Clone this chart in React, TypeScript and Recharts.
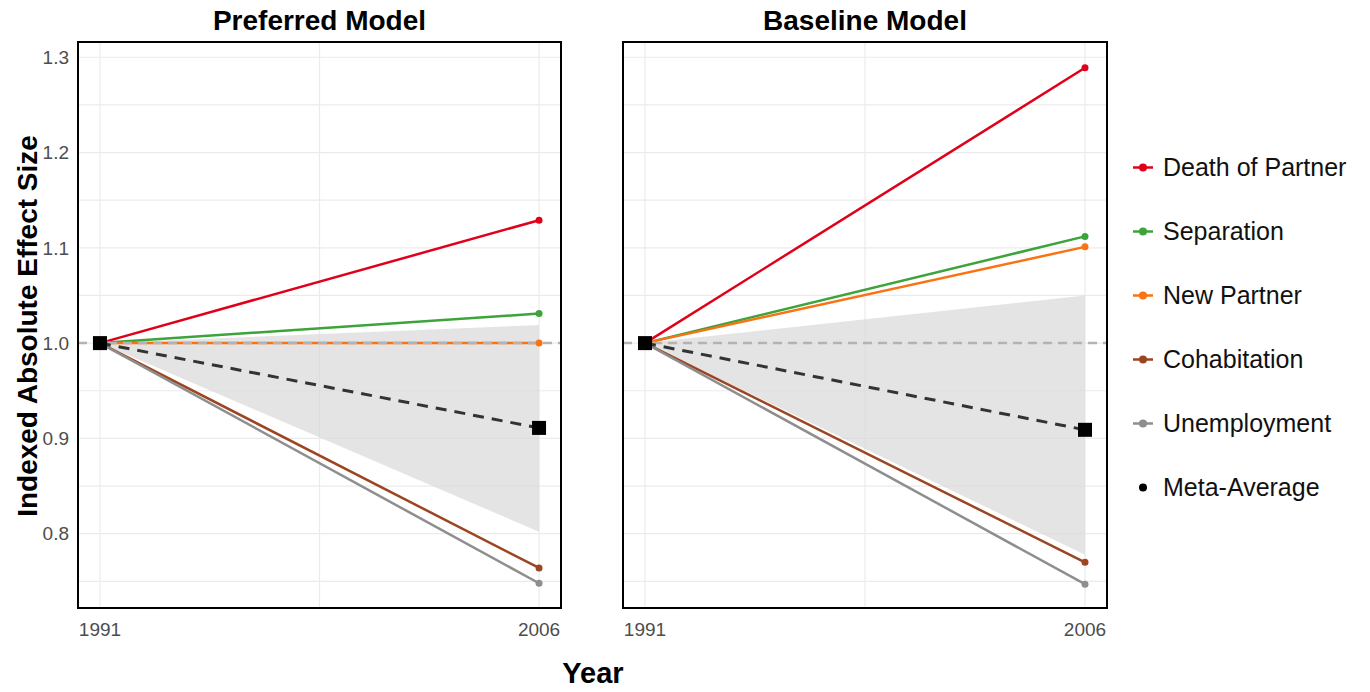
import React from 'react';
import { ComposedChart, Line, Area, XAxis, YAxis, CartesianGrid, ReferenceLine } from 'recharts';

// years on the x axis
const YEARS = [1991, 2006];

// legend order + colours
const SERIES_KEYS = ['death', 'separation', 'newPartner', 'cohabitation', 'unemployment', 'meta'];
const SERIES_NAMES = ['Death of Partner', 'Separation', 'New Partner', 'Cohabitation', 'Unemployment', 'Meta-Average'];
const SERIES_COLORS = ['#e1001a', '#3ca43a', '#fb7212', '#9b4522', '#8e8e8e', '#000000'];

// Preferred Model
const PREF_DEATH = [1, 1.129];
const PREF_SEPARATION = [1, 1.031];
const PREF_NEW_PARTNER = [1, 1.0];
const PREF_COHABITATION = [1, 0.764];
const PREF_UNEMPLOYMENT = [1, 0.748];
const PREF_META = [1, 0.911];
const PREF_LOWER = [1, 0.802];
const PREF_UPPER = [1, 1.019];

// Baseline Model
const BASE_DEATH = [1, 1.289];
const BASE_SEPARATION = [1, 1.112];
const BASE_NEW_PARTNER = [1, 1.101];
const BASE_COHABITATION = [1, 0.770];
const BASE_UNEMPLOYMENT = [1, 0.747];
const BASE_META = [1, 0.909];
const BASE_LOWER = [1, 0.778];
const BASE_UPPER = [1, 1.050];

const Y_TICKS = [0.8, 0.9, 1.0, 1.1, 1.2, 1.3];
const Y_GRID = [0.75, 0.8, 0.85, 0.9, 0.95, 1.0, 1.05, 1.1, 1.15, 1.2, 1.25, 1.3];
const X_GRID = [1991, 1998.5, 2006];

const FONT = '"Liberation Sans", Arial, Helvetica, sans-serif';

function buildRows(d: number[], s: number[], n: number[], c: number[], u: number[], m: number[], lo: number[], hi: number[]) {
    return YEARS.map((year, i) => ({
        year,
        death: d[i],
        separation: s[i],
        newPartner: n[i],
        cohabitation: c[i],
        unemployment: u[i],
        meta: m[i],
        band: [lo[i], hi[i]],
    }));
}

const preferredData = buildRows(PREF_DEATH, PREF_SEPARATION, PREF_NEW_PARTNER, PREF_COHABITATION, PREF_UNEMPLOYMENT, PREF_META, PREF_LOWER, PREF_UPPER);
const baselineData = buildRows(BASE_DEATH, BASE_SEPARATION, BASE_NEW_PARTNER, BASE_COHABITATION, BASE_UNEMPLOYMENT, BASE_META, BASE_LOWER, BASE_UPPER);

const SquareDot = (props: any) => {
    const { cx, cy } = props;
    if (cx == null || cy == null) return null;
    return <rect x={cx - 7} y={cy - 7} width={14} height={14} fill="#000" />;
};

function Panel({ data, showY, width }: { data: any[]; showY: boolean; width: number }) {
    return (
        <ComposedChart width={width} height={692} data={data} margin={{ top: 42, right: 2, bottom: 54, left: 0 }}>
            <CartesianGrid stroke="#ebebeb" strokeWidth={1.2} horizontalValues={Y_GRID} verticalValues={X_GRID} />
            <XAxis
                dataKey="year"
                type="number"
                domain={[1990.25, 2006.75]}
                ticks={YEARS}
                height={30}
                tickLine={false}
                axisLine={false}
                tickMargin={9}
                tick={{ fontSize: 19, fill: '#4d4d4d', fontFamily: FONT }}
            />
            <YAxis
                type="number"
                domain={[0.722, 1.316]}
                ticks={Y_TICKS}
                allowDataOverflow
                hide={!showY}
                width={78}
                tickLine={false}
                axisLine={false}
                tickMargin={3}
                tickFormatter={(v: number) => v.toFixed(1)}
                tick={{ fontSize: 19, fill: '#4d4d4d', fontFamily: FONT }}
            />
            <Area dataKey="band" stroke="none" fill="#d9d9d9" fillOpacity={0.7} isAnimationActive={false} />
            {SERIES_KEYS.slice(0, 5).map((key, i) => (
                <Line
                    key={key}
                    dataKey={key}
                    stroke={SERIES_COLORS[i]}
                    strokeWidth={2.5}
                    dot={{ r: 3.5, fill: SERIES_COLORS[i], stroke: 'none' }}
                    isAnimationActive={false}
                />
            ))}
            <ReferenceLine y={1} stroke="#b3b3b3" strokeWidth={2.5} strokeDasharray="9 6" />
            <Line
                dataKey="meta"
                stroke="#333333"
                strokeWidth={3}
                strokeDasharray="11 8"
                dot={<SquareDot />}
                isAnimationActive={false}
            />
        </ComposedChart>
    );
}

export default function App() {
    const titleStyle: React.CSSProperties = {
        position: 'absolute', top: 5, fontSize: 28, fontWeight: 'bold', fontFamily: FONT, textAlign: 'center', color: '#000',
    };
    return (
        <div style={{ position: 'absolute', left: 0, top: 0, width: 1370, height: 692, background: '#fff', fontFamily: FONT }}>
            <div style={{ position: 'absolute', left: 0, top: 0 }}>
                <Panel data={preferredData} showY={true} width={563} />
            </div>
            <div style={{ position: 'absolute', left: 623, top: 0 }}>
                <Panel data={baselineData} showY={false} width={486} />
            </div>
            {/* panel borders */}
            <div style={{ position: 'absolute', left: 77, top: 41, width: 485, height: 568, border: '2px solid #000', boxSizing: 'border-box' }} />
            <div style={{ position: 'absolute', left: 622, top: 41, width: 486, height: 568, border: '2px solid #000', boxSizing: 'border-box' }} />

            <div style={{ ...titleStyle, left: 78, width: 483 }}>Preferred Model</div>
            <div style={{ ...titleStyle, left: 623, width: 484 }}>Baseline Model</div>

            <div style={{
                position: 'absolute', left: 28, top: 326, transform: 'translate(-50%, -50%) rotate(-90deg)',
                whiteSpace: 'nowrap', fontSize: 28, fontWeight: 'bold', color: '#000',
            }}>Indexed Absolute Effect Size</div>

            <div style={{ position: 'absolute', left: 593, top: 673, transform: 'translate(-50%, -50%)', fontSize: 29, fontWeight: 'bold' }}>Year</div>

            {/* legend */}
            {SERIES_NAMES.map((name, i) => (
                <div key={name} style={{ position: 'absolute', left: 1133, top: 167 + i * 64, transform: 'translateY(-50%)', display: 'flex', alignItems: 'center' }}>
                    <svg width={22} height={12} style={{ marginRight: 8 }}>
                        {i < 5 && <line x1={0} y1={6} x2={20} y2={6} stroke={SERIES_COLORS[i]} strokeWidth={2.5} />}
                        <circle cx={10} cy={6} r={4} fill={SERIES_COLORS[i]} />
                    </svg>
                    <span style={{ fontSize: 25, color: '#111' }}>{name}</span>
                </div>
            ))}
        </div>
    );
}
